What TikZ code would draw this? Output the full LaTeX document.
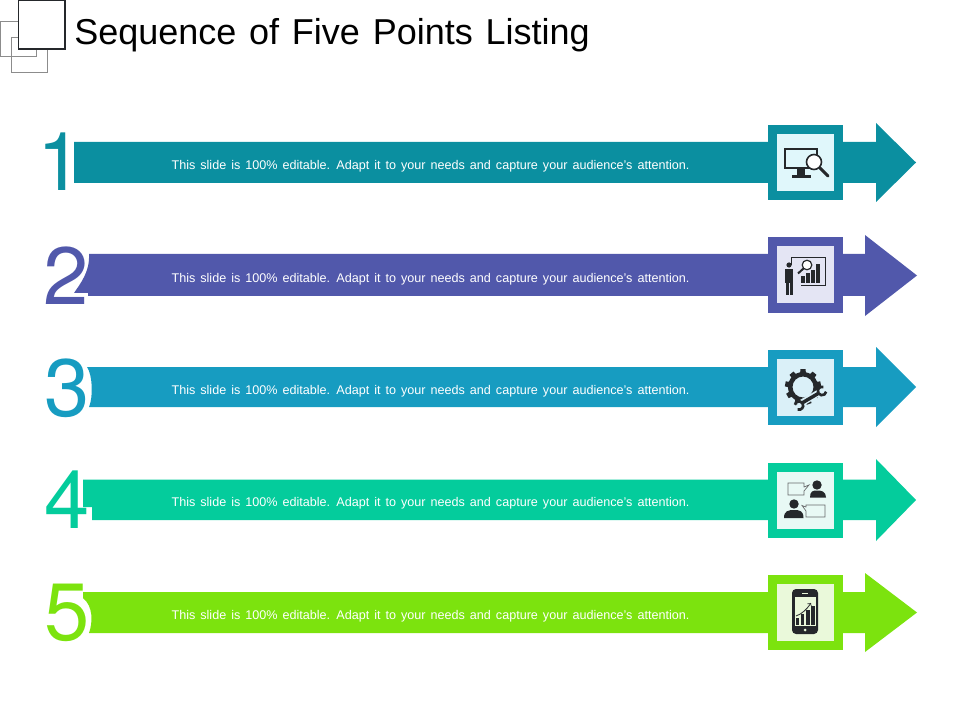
\documentclass[tikz,border=0pt]{standalone}
\usepackage{fontspec}
\setmainfont{Liberation Sans}
\newfontfamily\numfont{TeX Gyre Heros}
\usepackage{xcolor}
\definecolor{rowone}{HTML}{0B8FA0}
\definecolor{rowtwo}{HTML}{5158AB}
\definecolor{rowthree}{HTML}{179CC1}
\definecolor{rowfour}{HTML}{04CC9C}
\definecolor{rowfive}{HTML}{7CE30E}
\definecolor{paleone}{HTML}{E0F7FB}
\definecolor{paletwo}{HTML}{E4E5F4}
\definecolor{palethree}{HTML}{DAF0F8}
\definecolor{palefour}{HTML}{E8F9F5}
\definecolor{palefive}{HTML}{EAF9DA}
\definecolor{iconink}{HTML}{25282B}
\newcommand{\titlefont}{\fontsize{27}{32}\selectfont\spaceskip 9.6pt\relax}
\newcommand{\barfont}{\fontsize{9.45}{11}\selectfont\spaceskip 3.75pt\relax}
\tikzset{
  numlabel/.style={inner sep=0pt, font=\numfont\fontsize{61}{61}\selectfont},
  bartext/.style={inner sep=0pt, text=white, font=\barfont},
  outerbox/.style={minimum width=56.25pt, minimum height=56.25pt, inner sep=0pt},
  innerbox/.style={minimum width=42.75pt, minimum height=42.75pt, inner sep=0pt},
  smallsquare/.style={draw=gray!90, line width=0.6pt},
}
\begin{document}
\begin{tikzpicture}[x=0.75pt, y=-0.75pt]
\useasboundingbox (0,0) rectangle (960,720);

% title and logo
\draw[smallsquare] (0.5,21.5) rectangle (36.5,56);
\draw[smallsquare] (11.5,37.5) rectangle (47.5,72);
\draw[draw=iconink, fill=white, line width=1.2pt] (18.5,0.5) rectangle (65,49);
\node[anchor=base west, inner sep=0pt, font=\titlefont] (title) at (74,45) {Sequence of Five Points Listing};

% row 1
\fill[rowone] (74,142)--(876,142)--(876,123)--(916,162.5)--(876,202)--(876,183)--(74,183)--cycle;
\node[outerbox, fill=rowone] (boxa) at (805.5,162.5) {};
\node[innerbox, fill=paleone] (innera) at (805.5,162.5) {};
\node[numlabel, text=rowone] (numa) at (60,162) {1};
\node[bartext] (texta) at (430.5,166) {This slide is 100\% editable. Adapt it to your needs and capture your audience's attention.};

% row 2
\fill[rowtwo] (89,254)--(865,254)--(865,235)--(917,275.5)--(865,316)--(865,296)--(88,296)--(88,293)--(74,293)..controls (80,284) and (90,272)..cycle;
\node[outerbox, fill=rowtwo] (boxb) at (805.5,275) {};
\node[innerbox, fill=paletwo] (innerb) at (805.5,275) {};
\node[numlabel, text=rowtwo] (numb) at (66.5,276) {2};
\node[bartext] (textb) at (430.5,279) {This slide is 100\% editable. Adapt it to your needs and capture your audience's attention.};

% row 3
\fill[rowthree] (87,367)--(876,367)--(876,347)--(916,387)--(876,427)--(876,407)--(89,407)..controls (93,398) and (93,376)..cycle;
\node[outerbox, fill=rowthree] (boxc) at (805.5,387.5) {};
\node[innerbox, fill=palethree] (innerc) at (805.5,387.5) {};
\node[numlabel, text=rowthree] (numc) at (67.5,388) {3};
\node[bartext] (textc) at (430.5,391) {This slide is 100\% editable. Adapt it to your needs and capture your audience's attention.};

% row 4
\fill[rowfour] (83,479.5)--(876,479.5)--(876,459)--(916,500)--(876,541)--(876,520)--(92,520)--(92,507)--(83,507)--cycle;
\node[outerbox, fill=rowfour] (boxd) at (805.5,500) {};
\node[innerbox, fill=palefour] (innerd) at (805.5,500) {};
\node[numlabel, text=rowfour] (numd) at (67,499.5) {4};
\node[bartext] (textd) at (430.5,503) {This slide is 100\% editable. Adapt it to your needs and capture your audience's attention.};

% row 5
\fill[rowfive] (83,592)--(865,592)--(865,573)--(917,612.5)--(865,652)--(865,633)--(89,633)..controls (93,622) and (93,606)..(83,598)--cycle;
\node[outerbox, fill=rowfive] (boxe) at (805.5,612.5) {};
\node[innerbox, fill=palefive] (innere) at (805.5,612.5) {};
\node[numlabel, text=rowfive] (nume) at (67,612.5) {5};
\node[bartext] (texte) at (430.5,616) {This slide is 100\% editable. Adapt it to your needs and capture your audience's attention.};

% monitor icon
\draw[iconink, line width=1.3pt] (785,149)--(817,149)--(817,168)--(785,168)--cycle;
\fill[iconink] (797,168) rectangle (805,175);
\fill[iconink] (792,175) rectangle (811,178);
\draw[iconink, line width=1.2pt, fill=white] (814,162) circle (7.5);
\draw[iconink, line width=2.2pt, line cap=round] (820,168)--(828,176);

% presenter icon
\draw[iconink, line width=0.6pt] (791,265)--(791,257)--(825,257)--(825,285)--(801,285);
\fill[iconink] (789,265) circle (2.6);
\fill[iconink] (785,269) rectangle (793,283);
\fill[iconink] (786,283) rectangle (789,295);
\fill[iconink] (790,283) rectangle (793,295);
\draw[iconink, line width=0.9pt, fill=white] (807,265) circle (4.8);
\draw[iconink, line width=1.5pt] (803.5,268.5)--(798,273.5);
\fill[iconink] (801,276) rectangle (804.5,283);
\fill[iconink] (806,273) rectangle (809.5,283);
\fill[iconink] (811,270) rectangle (814.5,283);
\fill[iconink] (816,264) rectangle (820,283);

% gear and wrench icon
\fill[iconink, even odd rule] (803,387) circle (15) (803,387) circle (10.5);
\foreach \ang in {0,40,...,320}
  \fill[iconink, rotate around={\ang:(803,387)}] (800.5,369)--(805.5,369)--(806,374)--(800,374)--cycle;
\draw[palethree, line width=5pt] (798,405)--(822,391);
\draw[iconink, line width=2.6pt] (802,403)--(819,393);
\draw[iconink, line width=2pt] (794.86,404.77) arc (190:470:4.2);
\draw[iconink, line width=2pt] (826.14,391.73) arc (10:290:4.2);

% talking people icon
\draw[iconink!70, line width=0.5pt] (788,483)--(804,483)--(804,487)--(809,485)--(804,491)--(804,495)--(788,495)--cycle;
\fill[iconink] (817,485) circle (4.7);
\fill[iconink] (810,497.5)..controls (810,491) and (813,490.5)..(817,490.5)..controls (821,490.5) and (826,491)..(826,497.5)--cycle;
\fill[iconink] (794,504) circle (4.7);
\fill[iconink] (784,518)..controls (784,511) and (788,510)..(794,510)..controls (800,510) and (803.5,511)..(803.5,518)--cycle;
\draw[iconink!70, line width=0.5pt] (806,505)--(825,505)--(825,517)--(806,517)--(806,511)--(802,505.5)--(806,507)--cycle;

% phone icon
\fill[iconink, rounded corners=3pt] (792,589) rectangle (818,634);
\fill[palefive] (794.5,597) rectangle (815.5,626);
\fill[palefive] (805,630) circle (1.5);
\draw[palefive, line width=0.7pt] (802,593)--(808,593);
\fill[iconink] (796,618) rectangle (799,625);
\fill[iconink] (800.5,614) rectangle (804,625);
\fill[iconink] (806,610) rectangle (809.5,625);
\fill[iconink] (811,606) rectangle (815,625);
\draw[->, iconink, line width=0.6pt] (796,616)..controls (802,614) and (807,609)..(811,603);
\end{tikzpicture}
\end{document}
